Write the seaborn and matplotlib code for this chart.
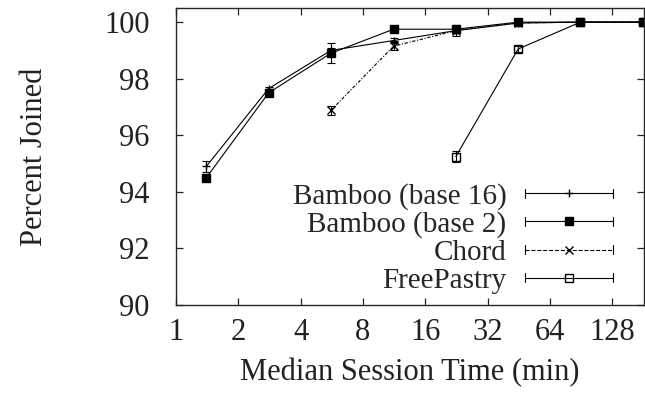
import numpy as np
import pandas as pd
import seaborn as sns
import matplotlib.pyplot as plt
from matplotlib.lines import Line2D
from matplotlib.legend_handler import HandlerBase

# median session times (min) and percent joined
session = [1.4, 2.8, 5.6, 11.25, 22.5, 45, 90, 180]

bamboo16 = [94.9, 97.65, 99.0, 99.35, 99.7, 99.97, 100.0, 100.0]
bamboo16_err = [0.2, 0.05, 0.1, 0.08, 0.2, 0.05, 0.02, 0.0]
bamboo2 = [94.5, 97.5, 98.9, 99.75, 99.75, 100.0, 100.0, 100.0]
bamboo2_err = [0.1, 0.05, 0.35, 0.05, 0.05, 0.02, 0.0, 0.0]
chord_x = [5.6, 11.25, 22.5, 45, 90, 180]
chord = [96.88, 99.15, 99.7, 99.97, 100.0, 100.0]
chord_err = [0.15, 0.15, 0.1, 0.05, 0.0, 0.0]
pastry_x = [22.5, 45, 90, 180]
pastry = [95.25, 99.05, 100.0, 100.0]
pastry_err = [0.2, 0.12, 0.02, 0.0]

series = [
    ("Bamboo (base 16)", session, bamboo16, bamboo16_err, "-", "+", "k"),
    ("Bamboo (base 2)", session, bamboo2, bamboo2_err, "-", "s", "k"),
    ("Chord", chord_x, chord, chord_err, (0, (3, 1.5, 1, 1.5)), "x", "k"),
    ("FreePastry", pastry_x, pastry, pastry_err, "-", "s", "none"),
]


class GnuplotHandler(HandlerBase):
    """legend sample like gnuplot's errorbar key: line with end caps, marker in middle"""
    def create_artists(self, legend, orig, xdescent, ydescent, width, height, fontsize, trans):
        y = height / 2 - ydescent
        x0, x1 = -xdescent, -xdescent + width
        c = height * 0.22
        line = Line2D([x0, x1], [y, y], color="k", lw=orig.get_linewidth(),
                      linestyle=orig.get_linestyle())
        caps = Line2D([x0, x0, np.nan, x1, x1], [y - c, y + c, np.nan, y - c, y + c],
                      color="k", lw=orig.get_linewidth())
        mk = Line2D([(x0 + x1) / 2], [y], marker=orig.get_marker(), markersize=orig.get_markersize(),
                    markerfacecolor=orig.get_markerfacecolor(), markeredgecolor="k",
                    markeredgewidth=orig.get_markeredgewidth(), linestyle="none")
        for a in (line, caps, mk):
            a.set_transform(trans)
        return [line, caps, mk]


sns.set_style("ticks")
plt.rcParams["font.family"] = ["Liberation Serif", "DejaVu Serif"]

fig = plt.figure(figsize=(6.45, 4.0), dpi=100)
ax = fig.add_axes([0.273, 0.2375, 0.725, 0.7425])

handles = []
for name, xs, ys, errs, ls, mk, mfc in series:
    df = pd.DataFrame({"x": xs, "y": ys})
    sns.lineplot(data=df, x="x", y="y", ax=ax, color="k", lw=0.8, linestyle=ls,
                 marker=mk, markersize=6, markerfacecolor=mfc, markeredgecolor="k",
                 markeredgewidth=1.0, legend=False)
    ax.errorbar(xs, ys, yerr=errs, fmt="none", ecolor="k", elinewidth=0.8,
                capsize=3, capthick=0.8)
    handles.append(Line2D([], [], color="k", lw=0.8, linestyle=ls, marker=mk, markersize=6,
                          markerfacecolor=mfc, markeredgecolor="k", markeredgewidth=1.0, label=name))

ax.set_xscale("log", base=2)
ax.set_xlim(1, 182)
ax.set_ylim(90, 100.5)
ax.set_xticks([1, 2, 4, 8, 16, 32, 64, 128])
ax.set_xticklabels(["1", "2", "4", "8", "16", "32", "64", "128"])
ax.set_yticks([90, 92, 94, 96, 98, 100])
ax.minorticks_off()
ax.tick_params(direction="in", top=True, right=True, length=5, width=0.9,
               labelsize=22, colors="#222222")
ax.tick_params(axis="y", pad=19)
ax.tick_params(axis="x", pad=9)
for s in ax.spines.values():
    s.set_linewidth(1.0)
    s.set_visible(True)

ax.set_xlabel("Median Session Time (min)", fontsize=22, labelpad=8, color="#222222")
ax.set_ylabel("Percent Joined", fontsize=22, labelpad=40, color="#222222")

ax.legend(handles=handles, handler_map={Line2D: GnuplotHandler()}, loc="center right",
          bbox_to_anchor=(0.934, 0.225), frameon=False, markerfirst=False, fontsize=21,
          handlelength=3.0, handletextpad=0.65, labelspacing=0.05, borderpad=0,
          borderaxespad=0)

fig.savefig("out.png", dpi=100)
